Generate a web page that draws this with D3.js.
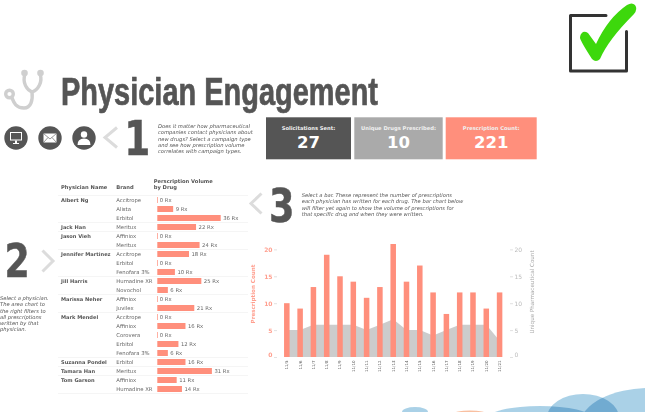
<!DOCTYPE html>
<html><head><meta charset="utf-8">
<script src="https://cdn.jsdelivr.net/npm/d3@7/dist/d3.min.js"></script>
<style>html,body{margin:0;padding:0;background:#fff;overflow:hidden}svg{display:block}text{font-family:"DejaVu Sans",sans-serif}</style>
</head><body><svg id="c" width="645" height="412"></svg>
<script>
// ---- data ----
const physicians=["Albert Ng","","","Jack Han","Jason Vieh","","Jennifer Martinez","","","Jill Harris","","Marissa Neher","","Mark Mendel","","","","","Suzanna Pondel","Tamara Han","Tom Garson",""];
const brands=["Accitrope","Alista","Erbitol","Meritux","Affiniox","Meritux","Accitrope","Erbitol","Fenofara 3%","Humadine XR","Novochol","Affiniox","Juvilex","Accitrope","Affiniox","Corovera","Erbitol","Fenofara 3%","Erbitol","Meritux","Affiniox","Humadine XR"];
const volumes=[0,9,36,22,0,24,18,0,10,25,6,0,21,0,16,0,12,6,16,31,11,14];
const days=["11/5","11/6","11/7","11/8","11/9","11/10","11/11","11/12","11/13","11/14","11/15","11/16","11/17","11/18","11/19","11/20","11/21"];
const prescriptions=[10,9,13,19,15,14,11,13,21,14,17,12,8,12,12,9,12];
const uniqueDrugs=[5,5,6,6,6,6,5,6,7,5,5,4,5,6,6,6,3];
const kpiTitles=["Solicitations Sent:","Unique Drugs Prescribed:","Prescription Count:"];
const kpiValues=[27,10,221];
const intro=["Does it matter how pharmaceutical","companies contact physicians about","new drugs? Select a campaign type","and see how prescription volume","correlates with campaign types."];
const step2=["Select a physician.","The area chart to","the right filters to","all prescriptions","written by that","physician."];
const step3=["Select a bar. These represent the number of prescriptions","each physician has written for each drug. The bar chart below","will filter yet again to show the volume of prescriptions for","that specific drug and when they were written."];

const DARK="#555555",GREY="#aaaaaa",SALMON="#ff8f7c",LIGHT="#dcdcdc";
const svg=d3.select("#c");

// hills
const hills=[[415,412,13,5,"#a6cfe6"],[470,414,17,3.5,"#f9bd9c"],[540,418,52,12,"#a6cfe6"],[583,418,36,24,"#a6cfe6"],[650,425,70,37,"#a6cfe6"]];
svg.append("g").selectAll("ellipse").data(hills).join("ellipse")
 .attr("cx",d=>d[0]).attr("cy",d=>d[1]).attr("rx",d=>d[2]).attr("ry",d=>d[3]).attr("fill",d=>d[4]).attr("opacity",.95).style("mix-blend-mode","multiply");

// checkbox
svg.append("path").attr("d","M606,15.5H570.5V71H626.5V31.5").attr("fill","none").attr("stroke","#333").attr("stroke-width",3).attr("stroke-linecap","round").attr("stroke-linejoin","round");
svg.append("path").attr("d","M583,32Q580,34 580,38Q581,42 592,59Q596,63 600,59Q608,40 634,14Q638,9 635,5Q632,2 627,5Q608,18 596,44L588,33Q585,31 583,32Z").attr("fill","#3dd80c");

// stethoscope
const st=svg.append("g").attr("fill","none").attr("stroke","#cfcfcf").attr("stroke-width",3.4).attr("stroke-linecap","round");
st.append("path").attr("d","M25,74C22,83 27,90 32,92C38,90 43,82 40,74");
st.append("path").attr("d","M32,92C33,100 31,108 24,108C16,108 14,103 12,98");
st.append("circle").attr("cx",24.5).attr("cy",73).attr("r",1.6).attr("fill","#cfcfcf");
st.append("circle").attr("cx",40.5).attr("cy",73).attr("r",1.6).attr("fill","#cfcfcf");
st.append("circle").attr("cx",9.5).attr("cy",94).attr("r",3.8);

// title
svg.append("text").attr("x",61).attr("y",104.5).text("Physician Engagement")
 .attr("fill",DARK).attr("stroke",DARK).attr("stroke-width",.7).attr("font-size",38).attr("font-weight",700).style("font-family",'"Liberation Sans Narrow","Liberation Sans",sans-serif')
 .attr("textLength",317).attr("lengthAdjust","spacingAndGlyphs");

// icons
const ic=svg.append("g");
[16,50,84].forEach(x=>ic.append("circle").attr("cx",x).attr("cy",138).attr("r",11.7).attr("fill",DARK));
ic.append("rect").attr("x",10).attr("y",132).attr("width",12).attr("height",8.5).attr("fill","#fff");
ic.append("rect").attr("x",11).attr("y",133).attr("width",10).attr("height",6.5).attr("fill",DARK);
ic.append("rect").attr("x",15).attr("y",140.5).attr("width",2).attr("height",2.5).attr("fill","#fff");
ic.append("rect").attr("x",13).attr("y",143).attr("width",6).attr("height",1).attr("fill","#fff");
ic.append("rect").attr("x",43.5).attr("y",133.5).attr("width",13).attr("height",9).attr("fill","#fff");
ic.append("path").attr("d","M43.5,133.5L50,139L56.5,133.5M43.5,142.5L48,137.5M56.5,142.5L52,137.5").attr("fill","none").attr("stroke",DARK).attr("stroke-width",.6);
ic.append("circle").attr("cx",84).attr("cy",134.5).attr("r",3.2).attr("fill","#fff");
ic.append("path").attr("d","M77.5,145Q77.5,138.5 84,138.5Q90.5,138.5 90.5,145Z").attr("fill","#fff");

// chevrons + step numbers
const chev=[[117,127.5,105,137.5,117,147.5],[42.5,250.5,53,261,42.5,271.5],[261.5,193.5,251,203.5,261.5,213.5]];
svg.append("g").selectAll("path").data(chev).join("path")
 .attr("d",d=>`M${d[0]},${d[1]}L${d[2]},${d[3]}L${d[4]},${d[5]}`).attr("fill","none").attr("stroke",LIGHT).attr("stroke-width",3);
[["1",124.3,155,48],["2",4.5,277,46.5],["3",269,222,47]].forEach(d=>svg.append("text").attr("transform",`translate(${d[1]},${d[2]}) scale(.78,1)`).text(d[0])
 .attr("fill",DARK).attr("stroke",DARK).attr("stroke-width",.5).attr("font-size",d[3]).attr("font-weight",700));

// notes
function note(lines,x,y,dy,fs){svg.append("g").selectAll("text").data(lines).join("text")
 .attr("x",x).attr("y",(d,i)=>y+i*dy).text(d=>d).attr("font-size",fs).attr("font-style","italic").attr("fill",DARK);}
note(intro,158,128,6.25,5.2);
note(step2,0,300,6.27,5.2);
note(step3,301.7,197,6.4,5.2);

// KPI tiles
const tiles=[[266,85,DARK],[354.3,88.4,GREY],[445.7,91,SALMON]];
const k=svg.append("g").selectAll("g").data(tiles).join("g").attr("transform",d=>`translate(${d[0]},117.3)`);
k.append("rect").attr("width",d=>d[1]).attr("height",42).attr("fill",d=>d[2]);
k.append("text").attr("x",d=>d[1]/2).attr("y",12.5).attr("text-anchor","middle").attr("fill","#f0f0f0").attr("font-size",5.2).attr("font-weight",700).text((d,i)=>kpiTitles[i]);
k.append("text").attr("x",d=>d[1]/2).attr("y",31).attr("text-anchor","middle").attr("fill","#fff").attr("font-size",16.5).attr("font-weight",700).text((d,i)=>kpiValues[i]);

// table
const rowY=d3.scaleBand().domain(d3.range(brands.length)).range([195.5,393.5]);
const volX=d3.scaleLinear().domain([0,36]).range([157.3,220.7]);
const T=svg.append("g");
const hdr=(t,x,y)=>T.append("text").attr("x",x).attr("y",y).text(t).attr("font-size",5.2).attr("font-weight",700).attr("fill",DARK);
hdr("Physician Name",61,189);hdr("Brand",116.3,189);hdr("Perscription Volume",153.7,183);hdr("by Drug",153.7,189);
const sepRows=physicians.map((p,i)=>p?i:-1).filter(i=>i>=0);
T.append("g").selectAll("line").data([...sepRows,brands.length]).join("line")
 .attr("x1",58).attr("x2",248).attr("y1",i=>i<brands.length?rowY(i):rowY.range()[1]).attr("y2",i=>i<brands.length?rowY(i):rowY.range()[1]).attr("stroke","#eeeeee").attr("stroke-width",.6);
T.append("g").selectAll("text").data(physicians).join("text").attr("x",61).attr("y",(d,i)=>rowY(i)+6).text(d=>d)
 .attr("font-size",5.1).attr("font-weight",700).attr("fill",DARK);
T.append("g").selectAll("text").data(brands).join("text").attr("x",116.3).attr("y",(d,i)=>rowY(i)+6.5).text(d=>d)
 .attr("font-size",5.3).attr("fill","#666");
T.append("g").selectAll("rect").data(volumes).join("rect").attr("x",volX(0)).attr("y",(d,i)=>rowY(i)+1.5)
 .attr("width",d=>Math.max(volX(d)-volX(0),.7)).attr("height",6).attr("fill",SALMON);
T.append("g").selectAll("text").data(volumes).join("text").attr("x",d=>volX(d)+2.5).attr("y",(d,i)=>rowY(i)+6.5).text(d=>d+" Rx")
 .attr("font-size",5.3).attr("fill","#666");

// combo chart
const x=d3.scaleBand().domain(days).range([280.2,506.2]).paddingInner(.585).paddingOuter(.29);
const y=d3.scaleLinear().domain([0,21]).range([357,244]);
const cx=d=>x(d)+x.bandwidth()/2;
const area=d3.area().x((d,i)=>cx(days[i])).y0(y(0)).y1(d=>y(d));
svg.append("path").datum(uniqueDrugs).attr("d",area).attr("fill","#cccccc");
svg.append("g").selectAll("rect").data(prescriptions).join("rect")
 .attr("x",(d,i)=>x(days[i])).attr("y",d=>y(d)).attr("width",x.bandwidth()).attr("height",d=>y(0)-y(d)).attr("fill",SALMON);
function styleAxis(g,col){g.select(".domain").remove();g.selectAll(".tick line").attr("stroke","#ccc").attr("stroke-width",.6);
 g.selectAll("text").attr("font-size",6).attr("fill",col).attr("font-weight",col==="#ff9f8f"?700:400).style("font-family",'"DejaVu Sans"');
 g.selectAll(".tick").filter(d=>d===0).select("text").attr("dy","-0.1em");}
const yTicks=[0,5,10,15,20];
svg.append("g").attr("transform","translate(277,0)").call(d3.axisLeft(y).tickValues(yTicks).tickSize(3).tickPadding(1.5)).call(g=>styleAxis(g,"#ff9f8f"));
svg.append("g").attr("transform","translate(510,0)").call(d3.axisRight(y).tickValues(yTicks).tickSize(3).tickPadding(1.5)).call(g=>styleAxis(g,"#bbbbbb"));
const xa=svg.append("g").attr("transform","translate(0,359)").call(d3.axisBottom(x).tickSize(0));
xa.select(".domain").remove();
xa.selectAll("text").attr("font-size",4).attr("fill","#555").style("font-family",'"DejaVu Sans"')
 .attr("transform","rotate(-90)").attr("text-anchor","end").attr("x",-1.5).attr("y",0).attr("dy","0.35em");
svg.append("text").attr("transform","translate(255,294) rotate(-90)").attr("text-anchor","middle").text("Prescription Count").attr("font-size",5.6).attr("font-weight",700).attr("fill","#ff9f8f");
svg.append("text").attr("transform","translate(534,292) rotate(-90)").attr("text-anchor","middle").text("Unique Pharmaceutical Count").attr("font-size",5.6).attr("fill","#aaaaaa");
</script></body></html>
